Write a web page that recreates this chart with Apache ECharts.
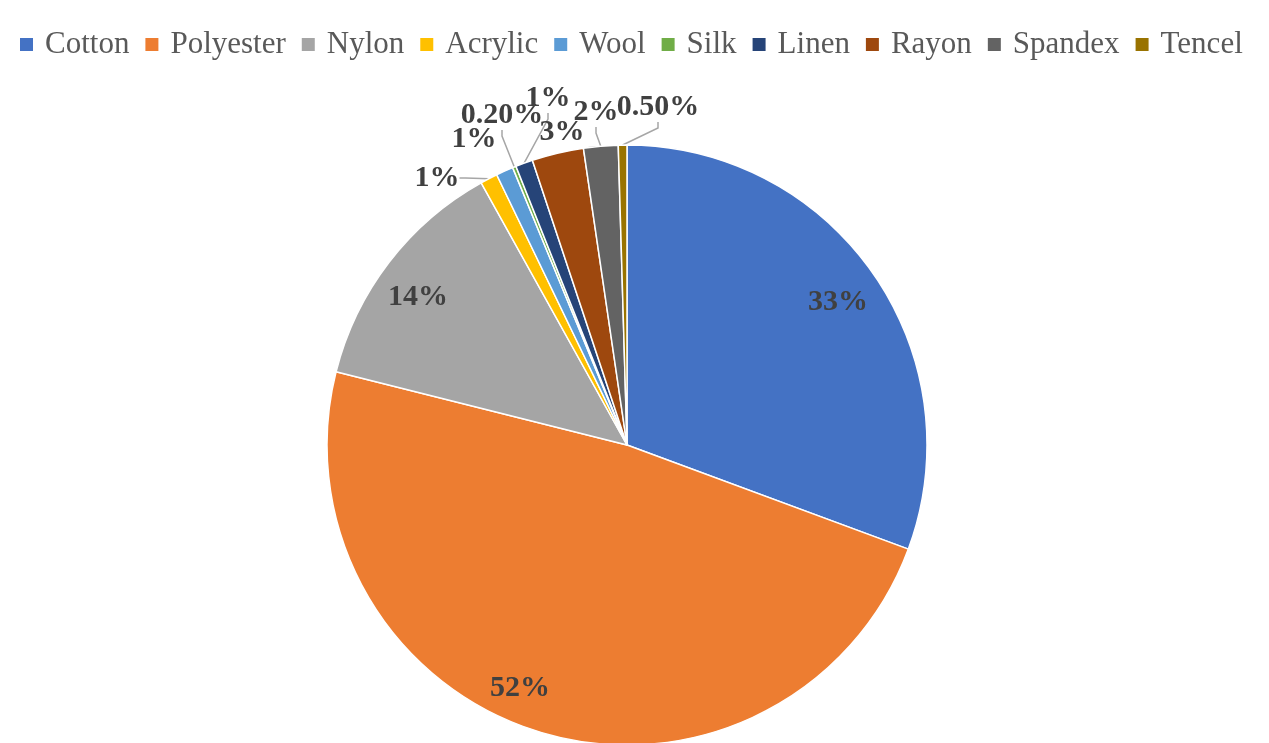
<!DOCTYPE html>
<html><head><meta charset="utf-8">
<script src="https://cdn.jsdelivr.net/npm/echarts@6/dist/echarts.min.js"></script>
<style>html,body{margin:0;padding:0;background:#fff}#c{width:1269px;height:743px}</style>
</head><body><div id="c"></div>
<script>
const categories = ['Cotton','Polyester','Nylon','Acrylic','Wool','Silk','Linen','Rayon','Spandex','Tencel'];
const values = [33, 52, 14, 1, 1, 0.2, 1, 3, 2, 0.5];
const valueLabels = ['33%','52%','14%','1%','1%','0.20%','1%','3%','2%','0.50%'];
const colors = ['#4472C4','#ED7D31','#A5A5A5','#FFC000','#5B9BD5','#70AD47','#264478','#9E480E','#636363','#997300'];

// label placement (layout only, centre of each label in px)
const labelPos = {
  Cotton: [838, 302], Polyester: [520, 688], Nylon: [418, 297],
  Acrylic: [437, 178], Wool: [474, 139], Silk: [502, 115],
  Linen: [548, 98], Rayon: [562, 132], Spandex: [596, 112], Tencel: [658, 107]
};
const withLine = ['Acrylic', 'Silk', 'Linen', 'Spandex', 'Tencel'];

const font = '"Liberation Serif", "Times New Roman", serif';
const chart = echarts.init(document.getElementById('c'));
const cx = 627, cy = 445, R = 300;

const data = categories.map((c, i) => ({
  name: c, value: values[i],
  itemStyle: {color: colors[i]},
  labelLine: {show: withLine.includes(c)}
}));

chart.setOption({
  animation: false,
  color: colors,
  legend: {
    top: 24, left: 13, itemWidth: 15, itemHeight: 15, itemGap: 14,
    icon: 'rect',
    textStyle: {fontFamily: font, fontSize: 31, color: '#595959', padding: [0,0,0,6]},
    data: categories
  },
  series: [
    {
      type: 'pie', center: [cx, cy], radius: [0, R], startAngle: 90, clockwise: true,
      avoidLabelOverlap: false,
      itemStyle: {borderColor: '#fff', borderWidth: 1.5},
      label: {
        position: 'outside', formatter: p => valueLabels[p.dataIndex],
        fontFamily: font, fontSize: 30, fontWeight: 'bold', color: '#404040'
      },
      labelLine: {length: 10, length2: 6, lineStyle: {color: '#a6a6a6', width: 1.5}},
      labelLayout: function (p) {
        const pos = labelPos[categories[p.dataIndex]];
        return {x: pos[0], y: pos[1], align: 'center', verticalAlign: 'middle'};
      },
      data: data
    }
  ]
});
</script></body></html>
